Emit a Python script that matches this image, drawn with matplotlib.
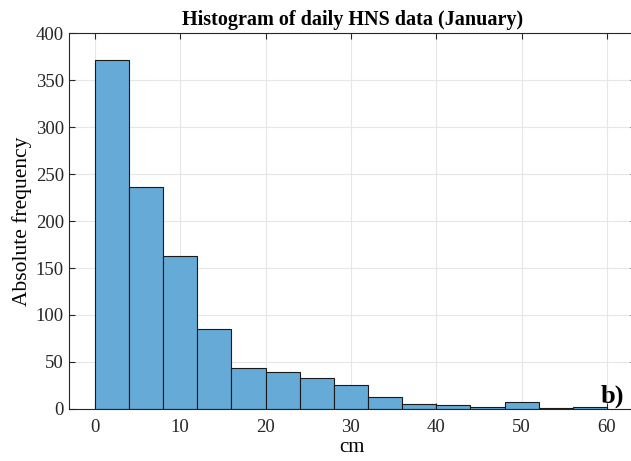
import numpy as np
import matplotlib.pyplot as plt

# bin edges (cm) and counts
bin_edges = [0, 4, 8, 12, 16, 20, 24, 28, 32, 36, 40, 44, 48, 52, 56, 60]
counts = [371, 236, 163, 85, 44, 39, 33, 25, 13, 5, 4, 2, 7, 1, 2]
x_ticks = [0, 10, 20, 30, 40, 50, 60]
y_ticks = [0, 50, 100, 150, 200, 250, 300, 350, 400]

BAR_COLOR = "#66AAD7"

plt.rcParams["font.family"] = ["Liberation Serif", "DejaVu Serif"]

fig = plt.figure(figsize=(6.31, 4.61), dpi=100)
# axes runs past the right edge of the picture (right spine is cut off)
ax = fig.add_axes([0.109, 0.113, 0.899, 0.815])

widths = np.diff(bin_edges)
ax.bar(bin_edges[:-1], counts, width=widths, align="edge",
       color=BAR_COLOR, edgecolor="#1a1a1a", linewidth=0.8, zorder=2)

ax.set_xlim(-3.05, 63.4)
ax.set_ylim(0, 400)
ax.set_xticks(x_ticks)
ax.set_yticks(y_ticks)
ax.grid(True, color="#e6e6e6", linewidth=0.8, zorder=0)
ax.set_axisbelow(True)

ax.tick_params(direction="in", top=True, right=True, labelsize=13.5,
               colors="#262626", length=4)
ax.tick_params(axis="x", pad=7)
for s in ax.spines.values():
    s.set_color("#262626")
    s.set_linewidth(0.8)

ax.set_title("Histogram of daily HNS data (January)", fontsize=14.5,
             fontweight="bold", pad=6)
ax.set_xlabel("cm", fontsize=15, labelpad=2)
ax.set_ylabel("Absolute frequency", fontsize=15.5, labelpad=3)

ax.text(59.2, 7, "b)", fontsize=19, fontweight="bold", ha="left", va="baseline")

fig.savefig("out.png", dpi=100)
